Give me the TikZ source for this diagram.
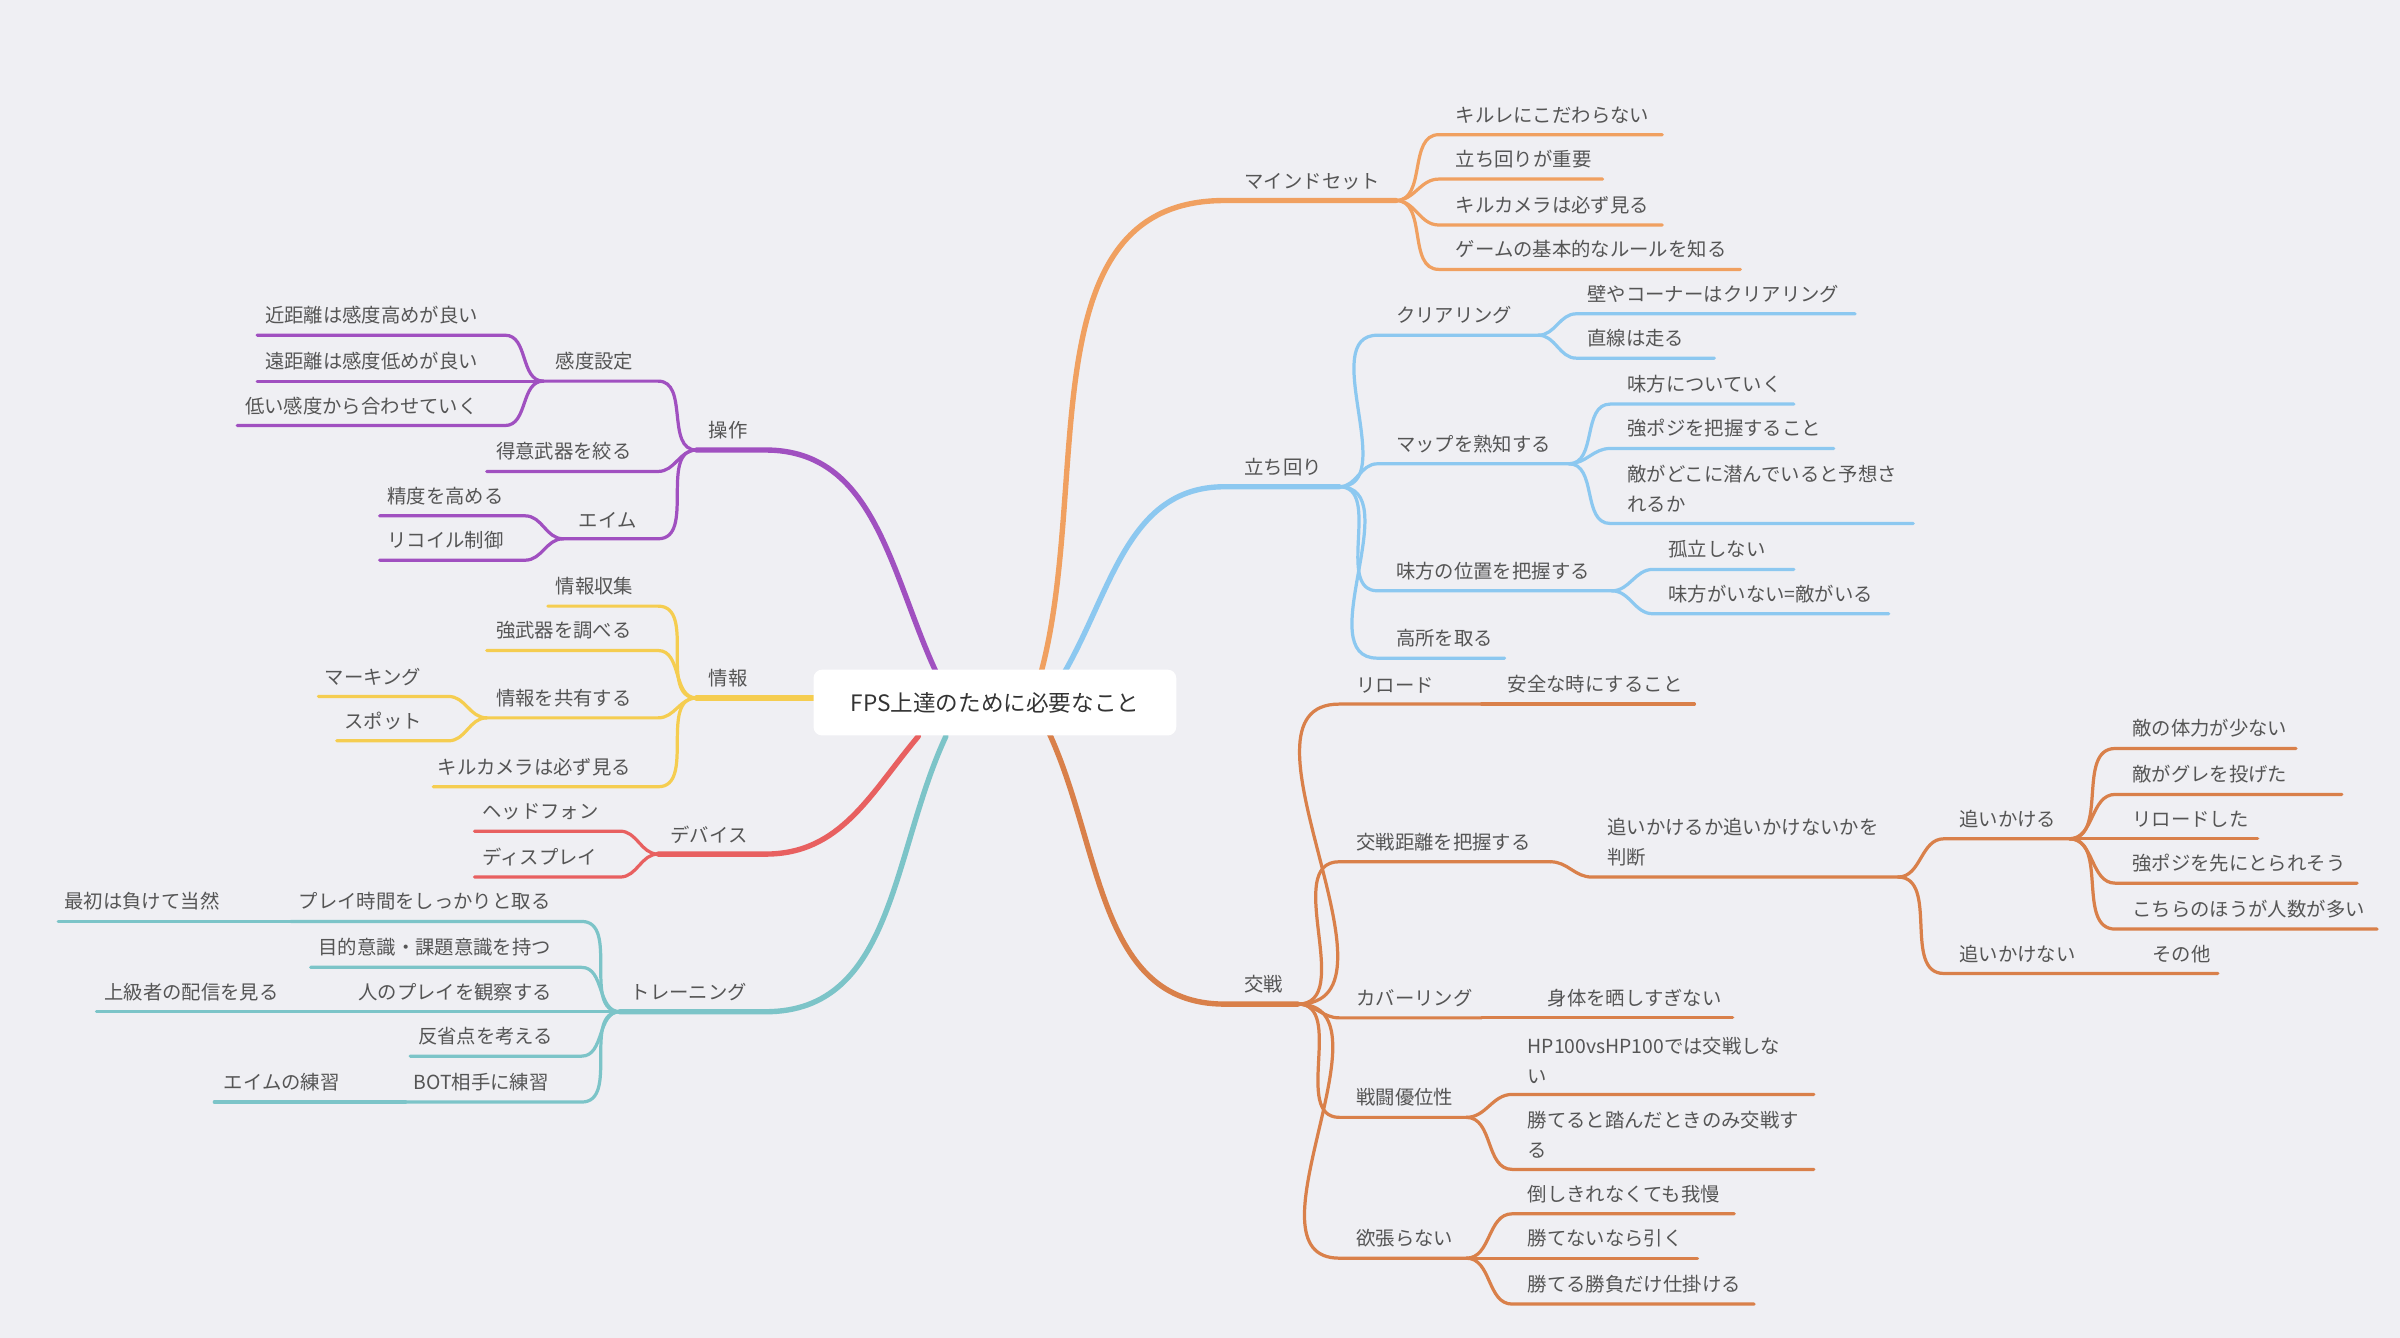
\documentclass[tikz,border=0pt]{standalone}
\usepackage{fontspec}
\setmainfont{Noto Sans CJK JP}
\begin{document}
\begin{tikzpicture}[x=0.05cm,y=-0.05cm]
\definecolor{bg}{HTML}{EFEFF3}
\definecolor{tx}{HTML}{555555}
\definecolor{cO}{HTML}{F0A060}
\definecolor{cB}{HTML}{8CC8F0}
\definecolor{cD}{HTML}{D9804A}
\definecolor{cP}{HTML}{A050C0}
\definecolor{cY}{HTML}{F5CD50}
\definecolor{cR}{HTML}{E86060}
\definecolor{cT}{HTML}{7CC4C8}
\tikzset{lw/.style={line width=3pt,line cap=round},
 mw/.style={line width=5pt,line cap=round},
 txt/.style={inner sep=0pt,text=tx,font=\fontsize{18}{28}\selectfont,align=left}}
\newcommand\rbr[8]{\draw[#1,lw] (#2,#3) to[out=0,in=180] (#4,#5) -- (#6,#5); \node[txt,anchor=south west] at (#7,#5-7) {#8};}
\newcommand\lbr[8]{\draw[#1,lw] (#2,#3) to[out=180,in=0] (#4,#5) -- (#6,#5); \node[txt,anchor=south west] at (#7,#5-7) {#8};}
\fill[bg] (0,0) rectangle (1568,874);
% main branches
\draw[cO,mw] (680,440) to[out=75,in=180] (800,131) -- (912,131);
\node[txt,anchor=south west] at (813,124) {マインドセット};
\draw[cB,mw] (695,440) to[out=60,in=180] (800,318) -- (875,318);
\node[txt,anchor=south west] at (813,311) {立ち回り};
\draw[cD,mw] (685,478) to[out=-65,in=180] (800,656) -- (848,656);
\node[txt,anchor=south west] at (813,649) {交戦};
\draw[cP,mw] (612,440) to[out=115,in=0] (500,294) -- (455,294);
\node[txt,anchor=south west] at (463,287) {操作};
\draw[cY,mw] (540,456) -- (455,456);
\node[txt,anchor=south west] at (463,449) {情報};
\draw[cR,mw] (600,481) to[out=-130,in=0] (500,558) -- (430,558);
\node[txt,anchor=south west] at (438,551) {デバイス};
\draw[cT,mw] (618,481) to[out=-115,in=0] (500,661) -- (405,661);
\node[txt,anchor=south west] at (412,654) {トレーニング};
% mindset
\rbr{cO}{912}{131}{940}{88}{1086}{951}{キルレにこだわらない}
\rbr{cO}{912}{131}{940}{117}{1047}{951}{立ち回りが重要}
\rbr{cO}{912}{131}{940}{147}{1086}{951}{キルカメラは必ず見る}
\rbr{cO}{912}{131}{940}{176}{1137}{951}{ゲームの基本的なルールを知る}
% tachimawari
\rbr{cB}{875}{318}{900}{219}{1005}{912}{クリアリング}
\rbr{cB}{1005}{219}{1030}{205}{1212}{1037}{壁やコーナーはクリアリング}
\rbr{cB}{1005}{219}{1030}{234}{1120}{1037}{直線は走る}
\rbr{cB}{875}{318}{900}{303}{1025}{912}{マップを熟知する}
\rbr{cB}{1025}{303}{1052}{264}{1172}{1063}{味方についていく}
\rbr{cB}{1025}{303}{1052}{293}{1198}{1063}{強ポジを把握すること}
\rbr{cB}{1025}{303}{1052}{342}{1250}{1063}{敵がどこに潜んでいると予想さ\\れるか}
\rbr{cB}{875}{318}{900}{386}{1053}{912}{味方の位置を把握する}
\rbr{cB}{1053}{386}{1080}{372}{1172}{1090}{孤立しない}
\rbr{cB}{1053}{386}{1080}{401}{1234}{1090}{味方がいない=敵がいる}
\rbr{cB}{875}{318}{900}{430}{983}{912}{高所を取る}
% kousen
\rbr{cD}{848}{656}{875}{460}{968}{886}{リロード}
\rbr{cD}{968}{460}{975}{460}{1107}{985}{安全な時にすること}
\rbr{cD}{848}{656}{875}{563}{1013}{886}{交戦距離を把握する}
\rbr{cD}{1013}{563}{1040}{573}{1240}{1050}{追いかけるか追いかけないかを\\判断}
\rbr{cD}{1240}{573}{1270}{548}{1352}{1280}{追いかける}
\rbr{cD}{1240}{573}{1270}{636}{1449}{1280}{追いかけない}
\rbr{cD}{1352}{548}{1382}{489}{1500}{1393}{敵の体力が少ない}
\rbr{cD}{1352}{548}{1382}{519}{1530}{1393}{敵がグレを投げた}
\rbr{cD}{1352}{548}{1382}{548}{1475}{1393}{リロードした}
\rbr{cD}{1352}{548}{1382}{577}{1540}{1393}{強ポジを先にとられそう}
\rbr{cD}{1352}{548}{1382}{607}{1553}{1393}{こちらのほうが人数が多い}
\node[txt,anchor=south west] at (1406,629) {その他};
\rbr{cD}{848}{656}{875}{665}{968}{886}{カバーリング}
\rbr{cD}{968}{665}{1000}{665}{1132}{1011}{身体を晒しすぎない}
\rbr{cD}{848}{656}{875}{730}{958}{886}{戦闘優位性}
\rbr{cD}{958}{730}{988}{715}{1185}{998}{HP100vsHP100では交戦しな\\い}
\rbr{cD}{958}{730}{988}{764}{1185}{998}{勝てると踏んだときのみ交戦す\\る}
\rbr{cD}{848}{656}{875}{822}{958}{886}{欲張らない}
\rbr{cD}{958}{822}{988}{793}{1133}{998}{倒しきれなくても我慢}
\rbr{cD}{958}{822}{988}{822}{1109}{998}{勝てないなら引く}
\rbr{cD}{958}{822}{988}{852}{1146}{998}{勝てる勝負だけ仕掛ける}
% sousa
\lbr{cP}{455}{294}{430}{249}{355}{363}{感度設定}
\lbr{cP}{355}{249}{330}{219}{168}{173}{近距離は感度高めが良い}
\lbr{cP}{355}{249}{330}{249}{168}{173}{遠距離は感度低めが良い}
\lbr{cP}{355}{249}{330}{278}{155}{160}{低い感度から合わせていく}
\lbr{cP}{455}{294}{430}{308}{318}{324}{得意武器を絞る}
\lbr{cP}{455}{294}{430}{352}{368}{378}{エイム}
\lbr{cP}{368}{352}{343}{337}{248}{253}{精度を高める}
\lbr{cP}{368}{352}{343}{366}{248}{253}{リコイル制御}
% jouhou
\lbr{cY}{455}{456}{430}{396}{358}{363}{情報収集}
\lbr{cY}{455}{456}{430}{425}{318}{324}{強武器を調べる}
\lbr{cY}{455}{456}{430}{469}{318}{324}{情報を共有する}
\lbr{cY}{318}{469}{293}{455}{208}{212}{マーキング}
\lbr{cY}{318}{469}{293}{484}{220}{225}{スポット}
\lbr{cY}{455}{456}{430}{514}{283}{286}{キルカメラは必ず見る}
% device
\lbr{cR}{430}{558}{405}{543}{310}{315}{ヘッドフォン}
\lbr{cR}{430}{558}{405}{573}{310}{315}{ディスプレイ}
% training
\lbr{cT}{405}{661}{380}{602}{190}{195}{プレイ時間をしっかりと取る}
\lbr{cT}{190}{602}{180}{602}{38}{42}{最初は負けて当然}
\lbr{cT}{405}{661}{380}{632}{203}{208}{目的意識・課題意識を持つ}
\lbr{cT}{405}{661}{380}{661}{228}{234}{人のプレイを観察する}
\lbr{cT}{228}{661}{218}{661}{63}{68}{上級者の配信を見る}
\lbr{cT}{405}{661}{380}{690}{268}{273}{反省点を考える}
\lbr{cT}{405}{661}{380}{720}{265}{270}{BOT相手に練習}
\lbr{cT}{265}{720}{255}{720}{140}{146}{エイムの練習}
% center
\node[fill=white,rounded corners=8pt,minimum width=237*0.05cm,minimum height=43*0.05cm,text=black!80,font=\fontsize{21}{26}\selectfont] (c) at (650,459) {FPS上達のために必要なこと};
\end{tikzpicture}
\end{document}
